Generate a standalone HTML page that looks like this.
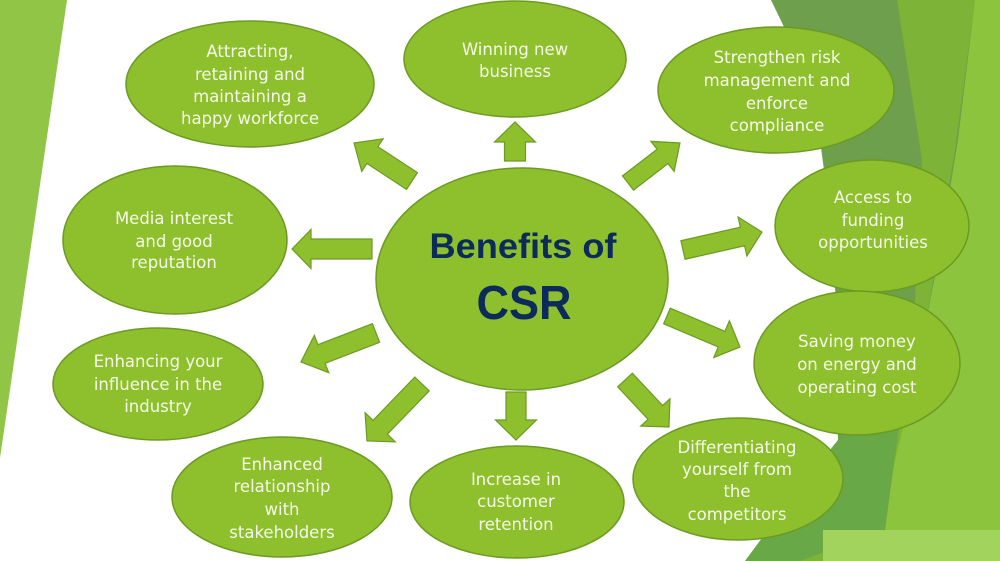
<!DOCTYPE html>
<html><head><meta charset="utf-8"><style>
html,body{margin:0;padding:0;background:#fff;}
svg{display:block;}
.b{fill:#8dc02c;stroke:#6c9a22;stroke-width:1.5;}
.t{font-family:"DejaVu Sans","Liberation Sans",sans-serif;font-size:16.5px;fill:#f6f9ea;text-anchor:middle;}
.a{fill:#8dc02c;stroke:#6c9a22;stroke-width:1.2;}
</style></head><body>
<svg width="1000" height="561" viewBox="0 0 1000 561" xmlns="http://www.w3.org/2000/svg">
<rect width="1000" height="561" fill="#ffffff"/>
<!-- left band -->
<polygon points="0,0 67,0 0,458" fill="#90c545"/>
<!-- right background -->
<polygon points="771,0 1000,0 1000,561 745,561 790,500 838,440 836,300 828,200 820,140 800,60" fill="#6d9f4c"/>
<polygon points="897,0 975,0 955,150 930,300 905,430 880,561 800,561 840,470 880,420 915,300 922,160" fill="#7db336"/>
<polygon points="975,0 1000,0 1000,561 870,561 890,480 915,380 940,250 958,140" fill="#8cc53d"/>
<polygon points="838,440 900,420 885,530 800,561 745,561" fill="#68a846"/>
<rect x="823" y="530" width="177" height="31" fill="#a2d35d"/>

<!-- arrows -->
<g>
<polygon class="a" transform="translate(412,181) rotate(213.2)" points="0,-10 47.3,-10 47.3,-19.5 69.3,0 47.3,19.5 47.3,10 0,10"/>
<polygon class="a" transform="translate(372,249) rotate(180)" points="0,-10 61,-10 61,-19.5 80,0 61,19.5 61,10 0,10"/>
<polygon class="a" transform="translate(515,161) rotate(-90)" points="0,-10.5 19,-10.5 19,-20.5 39,0 19,20.5 19,10.5 0,10.5"/>
<polygon class="a" transform="translate(628,183) rotate(-37.6)" points="0,-9 43.6,-9 43.6,-19 65.6,0 43.6,19 43.6,9 0,9"/>
<polygon class="a" transform="translate(683,250) rotate(-12.8)" points="0,-9.5 61,-9.5 61,-20 81,0 61,20 61,9.5 0,9.5"/>
<polygon class="a" transform="translate(376,333) rotate(158.9)" points="0,-10 58.4,-10 58.4,-20 80.4,0 58.4,20 58.4,10 0,10"/>
<polygon class="a" transform="translate(422,384) rotate(134)" points="0,-10 60.2,-10 60.2,-21 79.2,0 60.2,21 60.2,10 0,10"/>
<polygon class="a" transform="translate(516,392) rotate(90)" points="0,-10 28,-10 28,-20.5 48,0 28,20.5 28,10 0,10"/>
<polygon class="a" transform="translate(625,380) rotate(46.9)" points="0,-10 44.4,-10 44.4,-20 64.4,0 44.4,20 44.4,10 0,10"/>
<polygon class="a" transform="translate(667,316) rotate(23)" points="0,-8.5 59.3,-8.5 59.3,-20 79.3,0 59.3,20 59.3,8.5 0,8.5"/>
</g>

<!-- bubbles -->
<ellipse class="b" cx="250" cy="84" rx="124" ry="63"/>
<ellipse class="b" cx="515" cy="59" rx="111" ry="58"/>
<ellipse class="b" cx="776" cy="90" rx="118" ry="63"/>
<ellipse class="b" cx="872" cy="226" rx="97" ry="66"/>
<ellipse class="b" cx="175" cy="240" rx="112" ry="74"/>
<ellipse class="b" cx="158" cy="384" rx="105" ry="56"/>
<ellipse class="b" cx="282" cy="497" rx="110" ry="60"/>
<ellipse class="b" cx="517" cy="502" rx="107" ry="56"/>
<ellipse class="b" cx="738" cy="479" rx="105" ry="61"/>
<ellipse class="b" cx="857" cy="363" rx="103" ry="72"/>
<ellipse class="b" cx="522" cy="279" rx="146" ry="111"/>

<!-- center text -->
<text x="523" y="258" text-anchor="middle" textLength="187" lengthAdjust="spacingAndGlyphs" font-family="'Liberation Sans',sans-serif" font-weight="bold" font-size="35" fill="#0c2b5c">Benefits of</text>
<text x="524" y="319" text-anchor="middle" textLength="95" lengthAdjust="spacingAndGlyphs" font-family="'Liberation Sans',sans-serif" font-weight="bold" font-size="48" fill="#0c2b5c">CSR</text>

<!-- bubble text -->
<text class="t" x="250" y="57">Attracting,</text>
<text class="t" x="250" y="80">retaining  and</text>
<text class="t" x="250" y="102">maintaining a</text>
<text class="t" x="250" y="124">happy workforce</text>

<text class="t" x="515" y="55">Winning new</text>
<text class="t" x="515" y="77">business</text>

<text class="t" x="777" y="63">Strengthen risk</text>
<text class="t" x="777" y="86">management and</text>
<text class="t" x="777" y="109">enforce</text>
<text class="t" x="777" y="131">compliance</text>

<text class="t" x="873" y="203">Access to</text>
<text class="t" x="873" y="226">funding</text>
<text class="t" x="873" y="248">opportunities</text>

<text class="t" x="174" y="224">Media interest</text>
<text class="t" x="174" y="247">and good</text>
<text class="t" x="174" y="268">reputation</text>

<text class="t" x="158" y="367">Enhancing your</text>
<text class="t" x="158" y="390">influence in the</text>
<text class="t" x="158" y="412">industry</text>

<text class="t" x="282" y="470">Enhanced</text>
<text class="t" x="282" y="492">relationship</text>
<text class="t" x="282" y="515">with</text>
<text class="t" x="282" y="538">stakeholders</text>

<text class="t" x="516" y="485">Increase in</text>
<text class="t" x="516" y="507">customer</text>
<text class="t" x="516" y="530">retention</text>

<text class="t" x="737" y="453">Differentiating</text>
<text class="t" x="737" y="475">yourself from</text>
<text class="t" x="737" y="497">the</text>
<text class="t" x="737" y="520">competitors</text>

<text class="t" x="857" y="347">Saving money</text>
<text class="t" x="857" y="370">on energy and</text>
<text class="t" x="857" y="393">operating cost</text>
</svg>
</body></html>
